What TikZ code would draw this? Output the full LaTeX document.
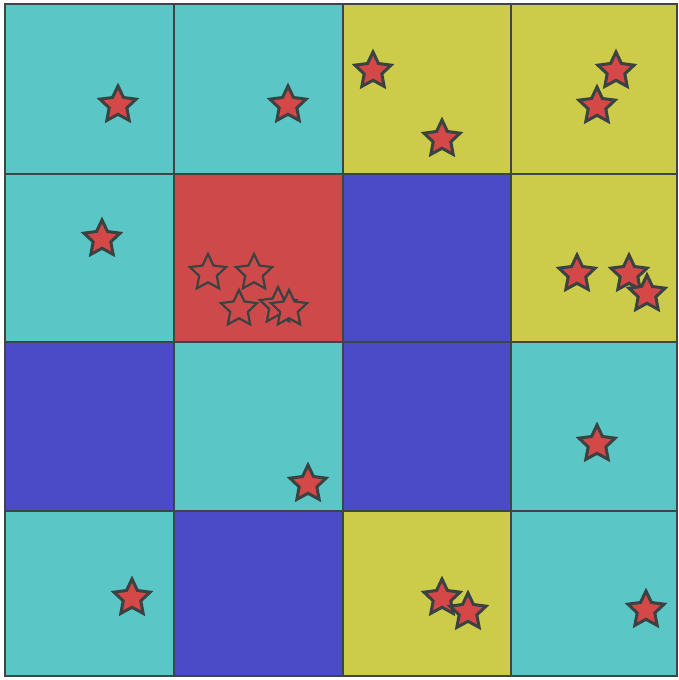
\documentclass[tikz,border=0pt]{standalone}
\usetikzlibrary{shapes.geometric}
\definecolor{cyanc}{RGB}{90,198,198}
\definecolor{yelc}{RGB}{204,204,74}
\definecolor{bluec}{RGB}{75,75,200}
\definecolor{redc}{RGB}{206,74,74}
\definecolor{gridc}{RGB}{60,70,70}
\definecolor{starc}{RGB}{212,72,72}
\definecolor{stared}{RGB}{58,66,66}
\tikzset{
  cell/.style={draw=gridc, line width=2.8pt},
  rstar/.style={star, star points=5, star point ratio=2.05, minimum size=38pt, inner sep=0pt, draw=stared, line width=3pt, fill=starc},
  hstar/.style={star, star points=5, star point ratio=2.05, minimum size=38pt, inner sep=0pt, draw=stared, line width=2.2pt, fill=redc}
}
\begin{document}
\begin{tikzpicture}[x=1pt,y=-1pt]
\useasboundingbox (0,0) rectangle (678,680);
% column edges 5,174,343,511,677 ; row edges 4,174,342,511,676
\fill[cyanc] (5,4) rectangle (174,174);
\fill[cyanc] (174,4) rectangle (343,174);
\fill[yelc] (343,4) rectangle (511,174);
\fill[yelc] (511,4) rectangle (677,174);
\fill[cyanc] (5,174) rectangle (174,342);
\fill[redc] (174,174) rectangle (343,342);
\fill[bluec] (343,174) rectangle (511,342);
\fill[yelc] (511,174) rectangle (677,342);
\fill[bluec] (5,342) rectangle (174,511);
\fill[cyanc] (174,342) rectangle (343,511);
\fill[bluec] (343,342) rectangle (511,511);
\fill[cyanc] (511,342) rectangle (677,511);
\fill[cyanc] (5,511) rectangle (174,676);
\fill[bluec] (174,511) rectangle (343,676);
\fill[yelc] (343,511) rectangle (511,676);
\fill[cyanc] (511,511) rectangle (677,676);
% grid lines
\draw[cell] (5,4) rectangle (677,676);
\draw[cell] (174,4) -- (174,676);
\draw[cell] (343,4) -- (343,676);
\draw[cell] (511,4) -- (511,676);
\draw[cell] (5,174) -- (677,174);
\draw[cell] (5,342) -- (677,342);
\draw[cell] (5,511) -- (677,511);
% stars
\node[rstar] (s1) at (118,105) {};
\node[rstar] (s2) at (288,105) {};
\node[rstar] (s3) at (373,71) {};
\node[rstar] (s4) at (442,139) {};
\node[rstar] (s5) at (616,71) {};
\node[rstar] (s6) at (597,106) {};
\node[rstar] (s7) at (102,239) {};
\node[hstar] (h1) at (208,273) {};
\node[hstar] (h2) at (254,273) {};
\node[hstar] (h3) at (239,309) {};
\node[hstar] (h4) at (278,306) {};
\node[hstar] (h5) at (289,309) {};
\node[rstar] (s8) at (577,274) {};
\node[rstar] (s9) at (629,274) {};
\node[rstar] (s10) at (647,294) {};
\node[rstar] (s11) at (308,484) {};
\node[rstar] (s12) at (597,444) {};
\node[rstar] (s13) at (132,598) {};
\node[rstar] (s14) at (442,598) {};
\node[rstar] (s15) at (468,612) {};
\node[rstar] (s16) at (646,610) {};
\end{tikzpicture}
\end{document}
